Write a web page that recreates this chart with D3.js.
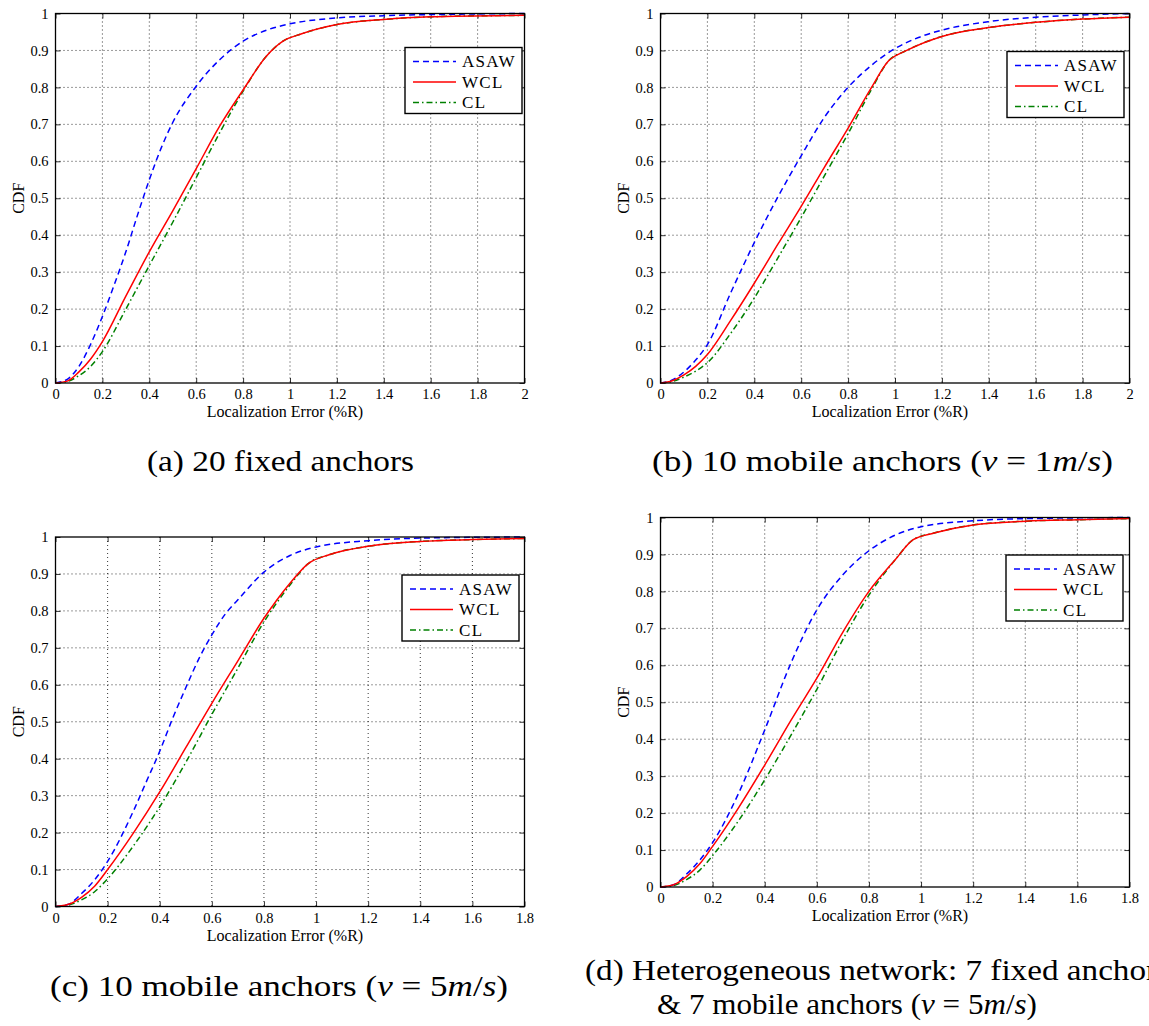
<!DOCTYPE html>
<html><head><meta charset="utf-8">
<script src="https://cdn.jsdelivr.net/npm/d3@7"></script>
<style>
html,body{margin:0;padding:0;background:#fff;overflow:hidden;}
svg{display:block;}
text{font-family:"Liberation Serif","Times New Roman",serif;fill:#000;}
</style></head>
<body>
<svg id="chart" width="1149" height="1026"></svg>
<script>
// ---------- data ----------
const seriesNames = ["ASAW", "WCL", "CL"];
const xTicksA = [0,0.2,0.4,0.6,0.8,1,1.2,1.4,1.6,1.8,2];
const xTicksC = [0,0.2,0.4,0.6,0.8,1,1.2,1.4,1.6,1.8];
const yTicks = [0,0.1,0.2,0.3,0.4,0.5,0.6,0.7,0.8,0.9,1];

// (a) 20 fixed anchors
const aASAW = [[0,0],[0.05,0.01],[0.1,0.045],[0.15,0.105],[0.2,0.18],[0.25,0.265],[0.3,0.355],[0.35,0.455],[0.4,0.55],[0.45,0.635],[0.5,0.705],[0.6,0.803],[0.7,0.875],[0.8,0.925],[0.9,0.955],[1,0.972],[1.2,0.988],[1.4,0.994],[1.7,0.998],[2,1]];
const aWCL = [[0,0],[0.05,0.005],[0.1,0.03],[0.15,0.065],[0.2,0.112],[0.3,0.235],[0.4,0.355],[0.5,0.466],[0.6,0.58],[0.7,0.695],[0.8,0.793],[0.9,0.885],[0.97,0.925],[1.05,0.945],[1.2,0.97],[1.4,0.984],[1.6,0.991],[2,0.995]];
const aCL  = [[0,0],[0.05,0.004],[0.1,0.02],[0.15,0.045],[0.2,0.085],[0.3,0.2],[0.4,0.318],[0.5,0.435],[0.6,0.556],[0.7,0.677],[0.8,0.79],[0.9,0.885],[0.97,0.925],[1.05,0.945],[1.2,0.97],[1.4,0.984],[1.6,0.991],[2,0.995]];

// (b) 10 mobile anchors (v = 1m/s)
const bASAW = [[0,0],[0.05,0.008],[0.1,0.03],[0.15,0.062],[0.2,0.104],[0.3,0.245],[0.4,0.38],[0.5,0.503],[0.6,0.615],[0.7,0.72],[0.8,0.8],[0.9,0.86],[1,0.905],[1.1,0.935],[1.2,0.955],[1.4,0.978],[1.6,0.99],[1.8,0.996],[2,1]];
const bWCL = [[0,0],[0.05,0.006],[0.1,0.022],[0.15,0.045],[0.2,0.077],[0.3,0.17],[0.4,0.27],[0.5,0.375],[0.6,0.478],[0.7,0.585],[0.8,0.69],[0.9,0.8],[0.97,0.87],[1.05,0.9],[1.2,0.938],[1.4,0.962],[1.6,0.976],[1.8,0.985],[2,0.99]];
const bCL  = [[0,0],[0.05,0.004],[0.1,0.016],[0.15,0.032],[0.2,0.055],[0.3,0.135],[0.4,0.23],[0.5,0.338],[0.6,0.448],[0.7,0.562],[0.8,0.675],[0.9,0.795],[0.97,0.87],[1.05,0.9],[1.2,0.938],[1.4,0.962],[1.6,0.976],[1.8,0.985],[2,0.99]];

// (c) 10 mobile anchors (v = 5m/s)
const cASAW = [[0,0],[0.05,0.006],[0.1,0.035],[0.15,0.072],[0.2,0.122],[0.3,0.26],[0.35,0.34],[0.4,0.42],[0.45,0.51],[0.5,0.592],[0.55,0.67],[0.6,0.735],[0.65,0.79],[0.7,0.83],[0.8,0.905],[0.9,0.95],[1,0.973],[1.2,0.99],[1.4,0.997],[1.8,1]];
const cWCL = [[0,0],[0.05,0.006],[0.1,0.025],[0.15,0.055],[0.2,0.1],[0.3,0.2],[0.4,0.31],[0.5,0.43],[0.6,0.55],[0.7,0.665],[0.8,0.78],[0.9,0.875],[0.97,0.928],[1.05,0.952],[1.2,0.975],[1.4,0.988],[1.6,0.993],[1.8,0.996]];
const cCL  = [[0,0],[0.05,0.004],[0.1,0.018],[0.15,0.04],[0.2,0.075],[0.3,0.165],[0.4,0.27],[0.5,0.39],[0.6,0.52],[0.7,0.645],[0.8,0.77],[0.9,0.87],[0.97,0.928],[1.05,0.952],[1.2,0.975],[1.4,0.988],[1.6,0.993],[1.8,0.996]];

// (d) Heterogeneous network
const dASAW = [[0,0],[0.05,0.006],[0.1,0.035],[0.15,0.072],[0.2,0.12],[0.3,0.254],[0.4,0.425],[0.5,0.605],[0.6,0.75],[0.7,0.845],[0.8,0.91],[0.9,0.952],[1,0.975],[1.2,0.991],[1.4,0.997],[1.8,1]];
const dWCL = [[0,0],[0.05,0.006],[0.1,0.028],[0.15,0.062],[0.2,0.11],[0.3,0.215],[0.4,0.33],[0.5,0.45],[0.6,0.565],[0.7,0.69],[0.8,0.8],[0.9,0.885],[0.97,0.94],[1.05,0.958],[1.2,0.98],[1.4,0.99],[1.6,0.994],[1.8,0.997]];
const dCL  = [[0,0],[0.05,0.004],[0.1,0.02],[0.15,0.045],[0.2,0.085],[0.3,0.18],[0.4,0.29],[0.5,0.41],[0.6,0.535],[0.7,0.67],[0.8,0.79],[0.9,0.885],[0.97,0.94],[1.05,0.958],[1.2,0.98],[1.4,0.99],[1.6,0.994],[1.8,0.997]];

const captionA = [[["(a) 20 fixed anchors",false]]];
const captionB = [[["(b) 10 mobile anchors (",false],["v",true],[" = 1",false],["m",true],["/",false],["s",true],[")",false]]];
const captionC = [[["(c) 10 mobile anchors (",false],["v",true],[" = 5",false],["m",true],["/",false],["s",true],[")",false]]];
const captionD = [[["(d) Heterogeneous network: 7 fixed anchors",false]],
                  [["& 7 mobile anchors (",false],["v",true],[" = 5",false],["m",true],["/",false],["s",true],[")",false]]];

// ---------- layout / style ----------
const styles = [
  {color:"#0000ff", dash:"6,4"},
  {color:"#ff0000", dash:null},
  {color:"#008000", dash:"6,3,1.5,3"}
];
const panels = [
  {x:55.5, y:13.5, xmax:2, xt:xTicksA, data:[aASAW,aWCL,aCL], leg:[405,47.5], cap:captionA,
   capLines:[{x:147, y:471, w:267}]},
  {x:660.5, y:13.5, xmax:2, xt:xTicksA, data:[bASAW,bWCL,bCL], leg:[1007,51.5], cap:captionB,
   capLines:[{x:652, y:471, w:461}]},
  {x:55.5, y:537, xmax:1.8, xt:xTicksC, data:[cASAW,cWCL,cCL], leg:[402,575], cap:captionC,
   capLines:[{x:50, y:996, w:458}]},
  {x:660.5, y:517.5, xmax:1.8, xt:xTicksC, data:[dASAW,dWCL,dCL], leg:[1006,555], cap:captionD,
   capLines:[{x:585, y:980, w:585},{x:657, y:1014, w:380}]}
];
const W = 469, H = 369.5;

const svg = d3.select("#chart");
const fmt = d => (d===0||d===1||d===2) ? String(d) : String(+d.toFixed(1));

panels.forEach((p,pi) => {
  const g = svg.append("g").attr("transform", `translate(${p.x},${p.y})`);
  const xs = d3.scaleLinear().domain([0,p.xmax]).range([0,W]);
  const ys = d3.scaleLinear().domain([0,1]).range([H,0]);

  // grid
  g.append("g").selectAll("line").data(p.xt.slice(1,-1)).join("line")
    .attr("x1",d=>xs(d)).attr("x2",d=>xs(d)).attr("y1",0).attr("y2",H)
    .attr("stroke","#000").attr("stroke-width",0.8).attr("stroke-dasharray","1,3");
  g.append("g").selectAll("line").data(yTicks.slice(1,-1)).join("line")
    .attr("y1",d=>ys(d)).attr("y2",d=>ys(d)).attr("x1",0).attr("x2",W)
    .attr("stroke","#000").attr("stroke-width",0.8).attr("stroke-dasharray","1,3");

  // axes (inward ticks, mirrored)
  const axB = d3.axisBottom(xs).tickValues(p.xt).tickFormat(fmt).tickSizeInner(-5).tickSizeOuter(0).tickPadding(6);
  const axT = d3.axisTop(xs).tickValues(p.xt).tickFormat("").tickSizeInner(-5).tickSizeOuter(0);
  const axL = d3.axisLeft(ys).tickValues(yTicks).tickFormat(fmt).tickSizeInner(-5).tickSizeOuter(0).tickPadding(7);
  const axR = d3.axisRight(ys).tickValues(yTicks).tickFormat("").tickSizeInner(-5).tickSizeOuter(0);
  g.append("g").attr("transform",`translate(0,${H})`).call(axB);
  g.append("g").call(axT);
  g.append("g").call(axL);
  g.append("g").attr("transform",`translate(${W},0)`).call(axR);
  g.selectAll(".domain").remove();
  g.selectAll(".tick line").attr("stroke","#000").attr("stroke-width",0.8);
  g.selectAll(".tick text").attr("font-family","Liberation Serif, serif").attr("font-size",14.5).attr("fill","#000");

  // curves
  const line = d3.line().x(d=>xs(d[0])).y(d=>ys(d[1])).curve(d3.curveMonotoneX);
  [2,0,1].forEach(si => {
    g.append("path").datum(p.data[si]).attr("d",line)
      .attr("fill","none").attr("stroke",styles[si].color).attr("stroke-width",1.5)
      .attr("stroke-dasharray",styles[si].dash);
  });

  // box
  g.append("rect").attr("x",0).attr("y",0).attr("width",W).attr("height",H)
    .attr("fill","none").attr("stroke","#000").attr("stroke-width",1.3);

  // axis labels
  g.append("text").attr("x",W/2 - 5).attr("y",H+34).attr("text-anchor","middle")
    .attr("font-size",16).text("Localization Error (%R)");
  g.append("text").attr("transform",`translate(-32,${H/2}) rotate(-90)`).attr("text-anchor","middle")
    .attr("font-size",16).text("CDF");

  // legend
  const lg = svg.append("g").attr("transform",`translate(${p.leg[0]},${p.leg[1]})`);
  lg.append("rect").attr("width",117).attr("height",66).attr("fill","#fff")
    .attr("stroke","#000").attr("stroke-width",1.4);
  seriesNames.forEach((n,i) => {
    const yy = 14 + i*20.5;
    lg.append("line").attr("x1",8).attr("x2",51).attr("y1",yy).attr("y2",yy)
      .attr("stroke",styles[i].color).attr("stroke-width",1.5).attr("stroke-dasharray",styles[i].dash);
    lg.append("text").attr("x",57).attr("y",yy+5.5).attr("font-size",17)
      .attr("letter-spacing","1.3px").text(n);
  });

  // caption
  p.cap.forEach((ln,li) => {
    const c = p.capLines[li];
    const t = svg.append("text").attr("x",c.x).attr("y",c.y).attr("text-anchor","start")
      .attr("font-size",29).attr("textLength",c.w).attr("lengthAdjust","spacingAndGlyphs");
    ln.forEach(seg => {
      t.append("tspan").attr("font-style",seg[1]?"italic":"normal").text(seg[0]);
    });
  });
});
</script>
</body></html>
